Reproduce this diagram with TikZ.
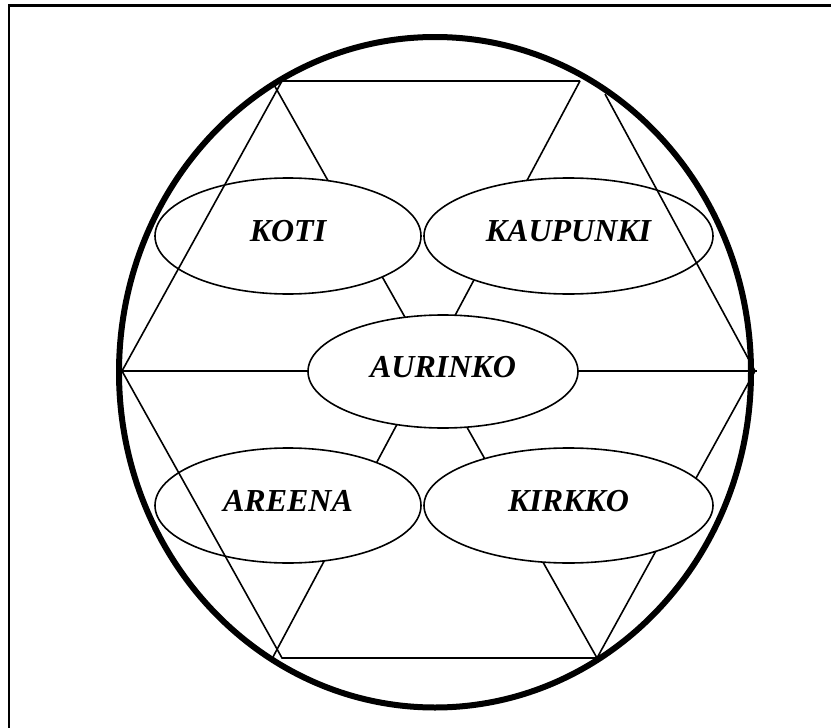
\documentclass[tikz,border=0pt]{standalone}
\usepackage{fontspec}
\setmainfont{Liberation Serif}
\usepackage{tikz}
\usetikzlibrary{shapes.geometric}

\begin{document}
\begin{tikzpicture}[x=1pt, y=-1pt,
    place/.style={ellipse, draw, fill=white, line width=1.6pt, inner sep=0pt,
      minimum width=266pt, minimum height=116pt, text depth=10pt,
      font=\fontsize{32}{38}\selectfont\bfseries\itshape},
    edge/.style={line width=1.6pt}]
  \useasboundingbox (0,0) rectangle (831,728);
  \clip (0,0) rectangle (831,728);
  \draw[line width=2.3pt] (9,5.5) rectangle (900,800);
  \coordinate (tl) at (282,81);
  \coordinate (tlx) at (273,83);
  \coordinate (tr) at (580,81);
  \coordinate (trx) at (605,94);
  \coordinate (l) at (122,371);
  \coordinate (r) at (755,371);
  \coordinate (rx) at (757,371);
  \coordinate (bl) at (282,658);
  \coordinate (blx) at (273,657);
  \coordinate (br) at (597,658);
  \draw[edge] (tlx) -- (br);
  \draw[edge] (tr) -- (blx);
  \draw[edge] (l) -- (rx);
  \draw[edge] (r) -- (br);
  \node[place] (koti) at (288,236) {KOTI};
  \node[place, minimum width=289pt] (kaupunki) at (568.5,236) {KAUPUNKI\hspace{8pt}};
  \node[place, minimum width=270pt, minimum height=113pt] (aurinko) at (443,371.5) {AURINKO\hspace{15pt}};
  \node[place, minimum height=115pt] (areena) at (288,505.5) {AREENA\hspace{29pt}};
  \node[place, minimum width=289pt, minimum height=115pt] (kirkko) at (568.5,505.5) {KIRKKO};
  \draw[edge] (tr) -- (tl) -- (l) -- (bl) -- (br);
  \draw[edge] (trx) -- (r);
  \draw[line width=6pt] (435,372.25) ellipse [x radius=316, y radius=335.25];
\end{tikzpicture}
\end{document}
